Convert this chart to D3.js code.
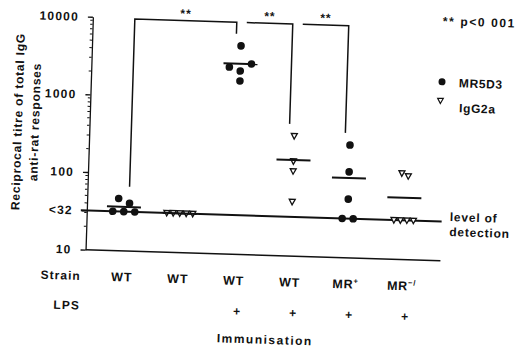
<!DOCTYPE html>
<html><head><meta charset="utf-8">
<script src="https://cdn.jsdelivr.net/npm/d3@7"></script>
<style>
body{margin:0;background:#fff}
svg{display:block}
text{font-family:"Liberation Sans",Arial,sans-serif;fill:#111;font-weight:bold}
</style>
</head><body>
<svg id="chart" width="515" height="350"></svg>
<script>
// ---- data ----
const groups = ["g1","g2","g3","g4","g5","g6"];
const strainLabels = ["WT","WT","WT","WT","MR","MR"];
const strainSup = ["","","","","+","−/"];
const lpsLabels = ["","","+","+","+","+"];
const seriesNames = ["MR5D3","IgG2a"];
const groupSeries = ["MR5D3","IgG2a","MR5D3","IgG2a","MR5D3","IgG2a"];
const values = [
  [47,41,32,32,32],
  [32,32,32,32,32],
  [4840,2560,2300,2860,1710],
  [166,124,50,352],
  [284,128,57,32,32],
  [129,119,32,32,32,32]
];
const yTickValues = [10,32,100,1000,10000];
const yTickLabels = ["10","<32","100","1000","10000"];
const detectionValue = 32;
const comparisons = [[0,2],[2,3],[3,4]];
const sigLabel = "**";
const sigNote = "** p<0 001";
const detectionText = ["level of","detection"];
const yTitle = ["Reciprocal titre of total IgG","anti-rat responses"];
const rowTitles = ["Strain","LPS"];
const xTitle = "Immunisation";

// ---- layout ----
const svg = d3.select("#chart");
const root = svg.append("g").attr("transform","rotate(1.8,257,175)");
const axisX = 88, rightX = 443;
const y = d3.scaleLog().domain([10,10000]).range([255,22]);
const x = d3.scaleBand().domain(groups).range([97,433]);
const cx = i => x(groups[i]) + x.bandwidth()/2;
const ink = "#111";

// y axis
const yAxis = d3.axisLeft(y).tickValues(yTickValues)
  .tickFormat((d,i)=>yTickLabels[i]).tickSize(5).tickSizeOuter(0).tickPadding(9);
const ag = root.append("g").attr("transform",`translate(${axisX},0)`).call(yAxis);
ag.select(".domain").attr("stroke",ink).attr("stroke-width",1.3);
ag.selectAll(".tick line").attr("stroke",ink).attr("stroke-width",1.3);
ag.selectAll(".tick text").attr("font-size",12).attr("font-family","Liberation Sans, Arial, sans-serif")
  .attr("font-weight","bold").attr("letter-spacing",1.2).attr("fill",ink);
// minor ticks
const minor = [];
[10,100,1000].forEach(b=>{for(let k=2;k<10;k++) minor.push(b*k);});
root.append("g").selectAll("line").data(minor).join("line")
  .attr("x1",axisX-2.5).attr("x2",axisX).attr("y1",d=>y(d)).attr("y2",d=>y(d))
  .attr("stroke",ink).attr("stroke-width",1);

// baseline and detection line
root.append("line").attr("x1",axisX).attr("x2",rightX).attr("y1",y(10)).attr("y2",y(10))
  .attr("stroke",ink).attr("stroke-width",1.5);
root.append("line").attr("x1",axisX-6).attr("x2",rightX).attr("y1",y(detectionValue)).attr("y2",y(detectionValue))
  .attr("stroke",ink).attr("stroke-width",2);

// y title
yTitle.forEach((t,i)=>{
  root.append("text").attr("transform",`translate(${16.5+i*17},129) rotate(-90)`)
    .attr("text-anchor","middle").attr("dominant-baseline","central")
    .attr("font-size",12).attr("letter-spacing",0.8).text(t);
});

// points with symmetric cluster dodge
const triPath = s => `M${-s},${-s*0.85}L${s},${-s*0.85}L0,${s}Z`;
values.forEach((vals,gi)=>{
  const ser = groupSeries[gi];
  const isCircle = ser===seriesNames[0];
  const spacing = isCircle ? 11 : 6.5;
  const thr = isCircle ? 8 : 6;
  const pts = vals.map((v,i)=>({v,i,py:y(v)}));
  const sorted = pts.slice().sort((a,b)=>a.py-b.py);
  const clusters = [];
  sorted.forEach(p=>{
    const c = clusters[clusters.length-1];
    if(c && p.py - c[c.length-1].py < thr) c.push(p); else clusters.push([p]);
  });
  clusters.forEach(c=>{
    c.sort((a,b)=>a.i-b.i);
    c.forEach((p,k)=>{p.px = cx(gi) + (k-(c.length-1)/2)*spacing;});
  });
  const g = root.append("g");
  if(isCircle){
    g.selectAll("circle").data(pts).join("circle")
      .attr("cx",d=>d.px).attr("cy",d=>d.py).attr("r",3.8).attr("fill",ink);
  } else {
    g.selectAll("path").data(pts).join("path")
      .attr("d",triPath(3)).attr("transform",d=>`translate(${d.px},${d.py})`)
      .attr("fill","#fff").attr("stroke",ink).attr("stroke-width",1.3);
  }
  // mean line
  const m = d3.mean(vals);
  root.append("line").attr("x1",cx(gi)-17).attr("x2",cx(gi)+17)
    .attr("y1",y(m)).attr("y2",y(m)).attr("stroke",ink).attr("stroke-width",2);
});

// significance brackets
const topY = 23;
let prevRight = -1;
comparisons.forEach(([a,b])=>{
  const xl = cx(a)+5, xr = cx(b)-5;
  const yl = y(d3.max(values[a]))-12, yr = y(d3.max(values[b]))-12;
  let d = (a===prevRight) ? `M${xl},${topY}` : `M${xl},${yl}V${topY}`;
  d += `H${xr}V${yr}`;
  root.append("path").attr("d",d).attr("fill","none").attr("stroke",ink).attr("stroke-width",1.5);
  root.append("text").attr("x",(xl+xr)/2).attr("y",20).attr("text-anchor","middle")
    .attr("font-size",12).attr("letter-spacing",1).text(sigLabel);
  prevRight = b;
});

// legend
root.append("text").attr("x",438).attr("y",19.5).attr("font-size",12).attr("letter-spacing",1.6).text(sigNote);
root.append("circle").attr("cx",439).attr("cy",76).attr("r",3.5).attr("fill",ink);
root.append("text").attr("x",456).attr("y",81).attr("font-size",12).attr("letter-spacing",0.6).text(seriesNames[0]);
root.append("path").attr("d",triPath(2.8)).attr("transform","translate(438,95)")
  .attr("fill","#fff").attr("stroke",ink).attr("stroke-width",1.2);
root.append("text").attr("x",457).attr("y",106).attr("font-size",12).attr("letter-spacing",0.6).text(seriesNames[1]);

// detection label
detectionText.forEach((t,i)=>{
  root.append("text").attr("x",451).attr("y",215+i*15).attr("font-size",12).attr("letter-spacing",0.8).text(t);
});

// category rows
root.append("text").attr("x",84).attr("y",285.5).attr("text-anchor","end")
  .attr("font-size",12).attr("letter-spacing",1).text(rowTitles[0]);
root.append("text").attr("x",84).attr("y",315).attr("text-anchor","end")
  .attr("font-size",12).attr("font-weight","normal").attr("letter-spacing",1).attr("fill","#333").text(rowTitles[1]);
groups.forEach((g,i)=>{
  const t = root.append("text").attr("x",cx(i)).attr("y",285.5).attr("text-anchor","middle")
    .attr("font-size",12.5).attr("letter-spacing",0.8);
  t.append("tspan").text(strainLabels[i]);
  if(strainSup[i]) t.append("tspan").attr("font-size",7.5).attr("dy",-5).text(strainSup[i]);
  if(lpsLabels[i]) root.append("text").attr("x",cx(i)+4).attr("y",316).attr("text-anchor","middle")
    .attr("font-size",12).text(lpsLabels[i]);
});
root.append("text").attr("x",270).attr("y",343.5).attr("text-anchor","middle")
  .attr("font-size",12).attr("letter-spacing",1.5).text(xTitle);
</script>
</body></html>
